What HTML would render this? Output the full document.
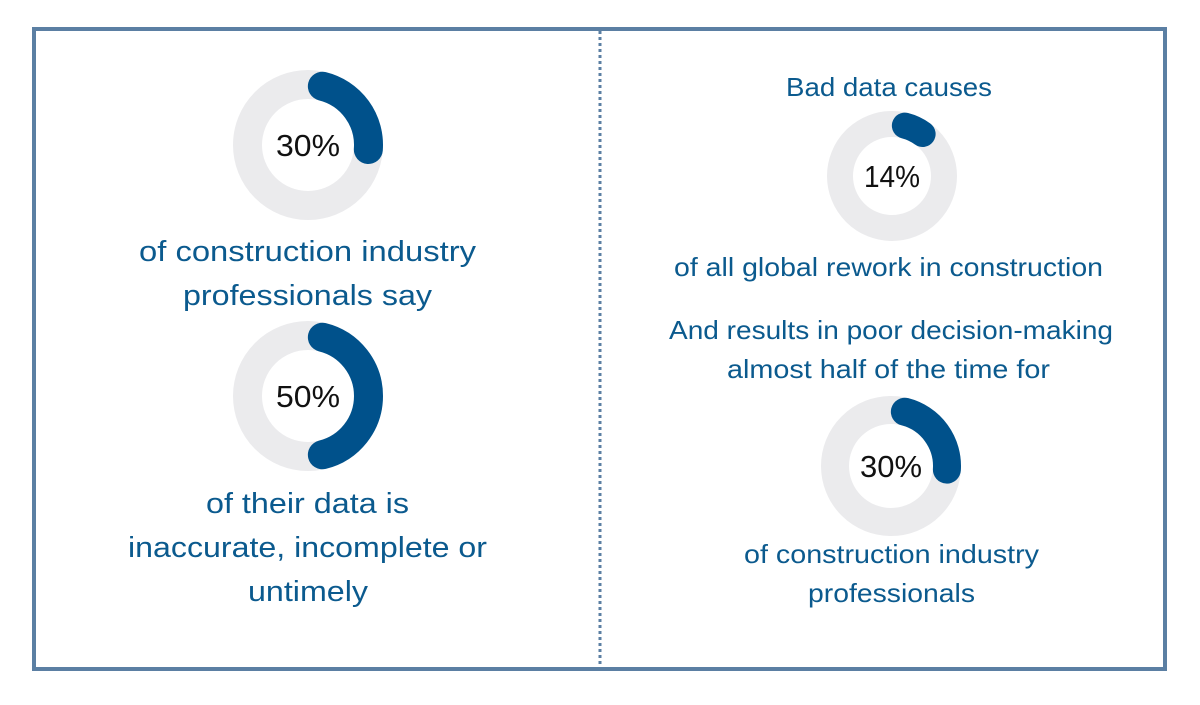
<!DOCTYPE html>
<html><head><meta charset="utf-8"><style>
body{margin:0;background:#fff;}
svg text{font-family:"Liberation Sans",sans-serif;}
</style></head><body>
<svg width="1200" height="700" viewBox="0 0 1200 700" xmlns="http://www.w3.org/2000/svg">
<rect x="34" y="29" width="1131" height="640" fill="none" stroke="#5b7fa3" stroke-width="4"/>
<line x1="600" y1="31" x2="600" y2="667" stroke="#5b7fa3" stroke-width="3" stroke-dasharray="3,3"/>
<g fill="none" stroke-linecap="round">
<circle cx="308" cy="145" r="60.5" stroke="#ebebed" stroke-width="29"/>
<path id="a1" stroke="#00518b" stroke-width="29"/>
<circle cx="308" cy="396" r="60.5" stroke="#ebebed" stroke-width="29"/>
<path id="a2" stroke="#00518b" stroke-width="29"/>
<circle cx="892" cy="176" r="52" stroke="#ebebed" stroke-width="26"/>
<path id="a3" stroke="#00518b" stroke-width="26"/>
<circle cx="891" cy="466" r="56" stroke="#ebebed" stroke-width="28"/>
<path id="a4" stroke="#00518b" stroke-width="28"/>
</g>
<g font-size="31" fill="#111" text-anchor="middle">
<text x="308" y="156" textLength="64" lengthAdjust="spacingAndGlyphs">30%</text>
<text x="308" y="407" textLength="64" lengthAdjust="spacingAndGlyphs">50%</text>
<text x="892" y="187" textLength="56" lengthAdjust="spacingAndGlyphs">14%</text>
<text x="891" y="477" textLength="62" lengthAdjust="spacingAndGlyphs">30%</text>
</g>
<g font-size="29" fill="#0b5a8e" lengthAdjust="spacingAndGlyphs">
<text x="139" y="261" textLength="337" lengthAdjust="spacingAndGlyphs">of construction industry</text>
<text x="183" y="305" textLength="249" lengthAdjust="spacingAndGlyphs">professionals say</text>
<text x="206" y="513" textLength="203" lengthAdjust="spacingAndGlyphs">of their data is</text>
<text x="128" y="557" textLength="359" lengthAdjust="spacingAndGlyphs">inaccurate, incomplete or</text>
<text x="248" y="601" textLength="120" lengthAdjust="spacingAndGlyphs">untimely</text>
</g>
<g font-size="26" fill="#0b5a8e">
<text x="786" y="96" textLength="206" lengthAdjust="spacingAndGlyphs">Bad data causes</text>
<text x="674" y="276" textLength="429" lengthAdjust="spacingAndGlyphs">of all global rework in construction</text>
<text x="669" y="339" textLength="444" lengthAdjust="spacingAndGlyphs">And results in poor decision-making</text>
<text x="727" y="378" textLength="323" lengthAdjust="spacingAndGlyphs">almost half of the time for</text>
<text x="744" y="563" textLength="295" lengthAdjust="spacingAndGlyphs">of construction industry</text>
<text x="808" y="602" textLength="167" lengthAdjust="spacingAndGlyphs">professionals</text>
</g>
</svg>
<script>
function arc(id,cx,cy,r,w,pct){
 var cap=(w/2)/r, a0=cap, a1=pct*2*Math.PI-cap;
 var x0=cx+r*Math.sin(a0),y0=cy-r*Math.cos(a0),x1=cx+r*Math.sin(a1),y1=cy-r*Math.cos(a1);
 var large=(a1-a0)>Math.PI?1:0;
 document.getElementById(id).setAttribute('d','M'+x0+' '+y0+' A'+r+' '+r+' 0 '+large+' 1 '+x1+' '+y1);
}
arc('a1',308,145,60.5,29,0.30);
arc('a2',308,396,60.5,29,0.50);
arc('a3',892,176,52,26,0.14);
arc('a4',891,466,56,28,0.30);
</script>
</body></html>
